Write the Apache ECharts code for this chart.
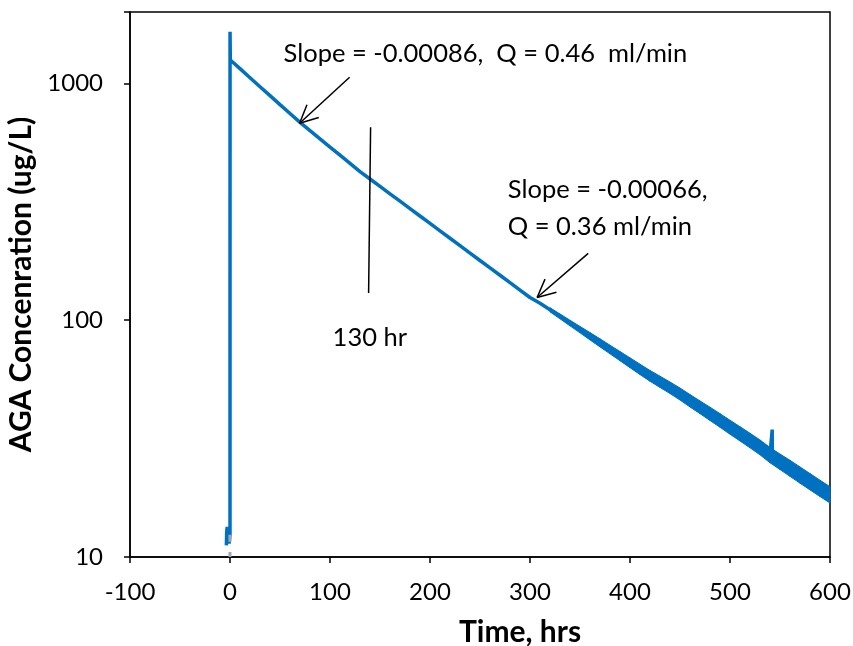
<!DOCTYPE html>
<html>
<head>
<meta charset="utf-8">
<script src="https://cdn.jsdelivr.net/npm/echarts@6/dist/echarts.min.js"></script>
<style>
html,body{margin:0;padding:0;background:#fff;}
#chart{width:853px;height:646px;}
</style>
</head>
<body>
<div id="chart"></div>
<script>
// ---- data ----
const timeHrs = [-3.6,-3.3,-2.8,-2.2,-1.6,-1.0,-0.5,0,0.05,0.3,
  10,20,30,40,50,60,70,80,90,100,110,120,130,140,150,160,170,180,190,200,
  210,220,230,240,250,260,270,280,290,300,310,320,330,340,350,360,370,380,390,400,
  410,420,430,440,450,460,470,480,490,500,510,520,530,540,542,542.2,542.4,550,560,570,580,590,600];
const concentration = [11.2,12.8,13.4,12.6,12.0,11.4,11.8,12.5,1650,1254,
  1153,1056,967,887,813,746,684,631,583,538,497,459,424,394.5,367.1,341.6,317.9,295.8,275.2,256.1,
  238.3,221.7,206.3,192.0,178.6,166.2,154.7,143.9,133.9,124.6,117.9,110.6,103.7,97.2,91.2,85.5,80.2,75.2,70.5,66.1,
  62.0,58.2,54.9,51.8,48.8,45.7,42.9,40.2,37.7,35.3,33.1,31.0,29.0,26.9,26.6,34.5,26.6,25.2,23.7,22.2,20.8,19.5,18.3];

// noisy band (late part of the record): lower and upper edges
const bandTime  = [320,330,340,350,360,370,380,390,400,410,420,430,440,450,460,470,480,490,500,510,520,530,540,550,560,570,580,590,600];
const bandLower = [108.4,101.3,94.6,88.4,82.5,77.1,72.1,67.4,63.0,58.9,55.2,52.0,49.0,46.0,43.0,40.3,37.7,35.3,33.0,30.9,28.9,27.0,25.0,23.4,21.9,20.5,19.2,18.0,16.9];
const bandUpper = [112.8,106.2,99.9,94.1,88.6,83.4,78.4,73.7,69.3,65.2,61.3,58.0,54.8,51.7,48.5,45.6,42.9,40.3,37.8,35.5,33.3,31.2,29.0,27.2,25.6,24.0,22.5,21.1,19.8];

// second (grey) trace near t = 0
const greyTime = [-0.1,-0.1,-0.1,-0.05,-0.05];
const greyConc = [12.4,11.6,'-',10.5,10.0];

// axes
const xTicks = [-100,0,100,200,300,400,500,600];
const yTicks = [10,100,1000];

// annotations (data coordinates)
const annoLines = [ // x1, y1, x2, y2, arrowhead
  [119.6,1060,69.6,678,1],
  [358.2,191.5,307.1,124.7,1],
  [140.6,652,138.6,130.3,0]
];
const annoTexts = ['Slope = -0.00086,  Q = 0.46  ml/min','Slope = -0.00066,','Q = 0.36 ml/min','130 hr'];
const annoTextPos = [[53.6,1330],[277.8,354],[277.8,247],[102.6,84]];

const FONT = 'Lato';
const BLUE = '#0070C0';

const chart = echarts.init(document.getElementById('chart'), null, {renderer:'canvas'});

const mainData = timeHrs.map((t,i)=>[t, concentration[i]]);
const bandData = bandTime.map((t,i)=>[t, bandLower[i], bandUpper[i]]);
const greyData = greyTime.map((t,i)=>[t, greyConc[i]]);

chart.setOption({
  animation:false,
  backgroundColor:'#fff',
  grid:{left:130,right:23,top:12,bottom:89,containLabel:false,outerBoundsMode:'none',
    show:true,borderColor:'#000',borderWidth:1.5,backgroundColor:'transparent'},
  xAxis:{
    type:'value', min:xTicks[0], max:xTicks[xTicks.length-1], interval:100,
    axisLine:{show:true,onZero:false,lineStyle:{color:'#000',width:1.5}},
    axisTick:{show:true,inside:false,length:6,lineStyle:{color:'#000',width:1.5}},
    splitLine:{show:false},
    axisLabel:{color:'#000',fontFamily:FONT,fontSize:24,margin:23},
    name:'Time, hrs', nameLocation:'middle', nameGap:60,
    nameTextStyle:{color:'#000',fontFamily:FONT,fontWeight:'bold',fontSize:30,padding:[0,0,0,80]}
  },
  yAxis:{
    type:'log', logBase:10, min:10, max:2000,
    axisLine:{show:true,onZero:false,lineStyle:{color:'#000',width:1.5}},
    axisTick:{show:true,inside:false,length:6,lineStyle:{color:'#000',width:1.5}},
    minorTick:{show:false}, splitLine:{show:false},
    axisLabel:{color:'#000',fontFamily:FONT,fontSize:24,margin:27,
      formatter:function(v){ return yTicks.indexOf(Math.round(v))>=0 ? String(Math.round(v)) : ''; }},
    name:'AGA Concenration (ug/L)', nameLocation:'middle', nameGap:86,
    nameTextStyle:{color:'#000',fontFamily:FONT,fontWeight:'bold',fontSize:30}
  },
  series:[
    {type:'custom',data:bandData,encode:{x:0,y:[1,2]},z:1,silent:true,
      renderItem:function(params,api){
        const i = params.dataIndex;
        if(i >= bandTime.length-1) return null;
        const a = api.coord([bandTime[i], bandLower[i]]);
        const b = api.coord([bandTime[i+1], bandLower[i+1]]);
        const c = api.coord([bandTime[i+1], bandUpper[i+1]]);
        const d = api.coord([bandTime[i], bandUpper[i]]);
        return {type:'polygon',shape:{points:[a,b,c,d]},style:{fill:BLUE,stroke:BLUE,lineWidth:1}};
      }},
    {type:'line',data:mainData,symbol:'none',lineStyle:{color:BLUE,width:3.5},z:2,clip:true},
    {type:'line',data:greyData,symbol:'none',connectNulls:false,lineStyle:{color:'#a6a6a6',width:3},z:3},
    {type:'custom',data:annoLines,clip:false,z:5,silent:true,
      renderItem:function(params,api){
        const p1 = api.coord([api.value(0),api.value(1)]);
        const p2 = api.coord([api.value(2),api.value(3)]);
        const children=[{type:'line',shape:{x1:p1[0],y1:p1[1],x2:p2[0],y2:p2[1]},style:{stroke:'#000',lineWidth:1.5}}];
        if(api.value(4)){
          const ang = Math.atan2(p1[1]-p2[1],p1[0]-p2[0]);
          const L=20, a=0.45;
          [ang+a,ang-a].forEach(function(b){
            children.push({type:'line',shape:{x1:p2[0],y1:p2[1],x2:p2[0]+L*Math.cos(b),y2:p2[1]+L*Math.sin(b)},style:{stroke:'#000',lineWidth:1.5}});
          });
        }
        return {type:'group',children:children};
      }},
    {type:'custom',data:annoTextPos.map((p,i)=>[p[0],p[1],i]),clip:false,z:5,silent:true,
      renderItem:function(params,api){
        const p = api.coord([api.value(0),api.value(1)]);
        return {type:'text',x:p[0],y:p[1],style:{text:annoTexts[api.value(2)],fill:'#000',font:'25.5px '+FONT,textAlign:'left',textVerticalAlign:'middle'}};
      }}
  ]
});
</script>
</body>
</html>
